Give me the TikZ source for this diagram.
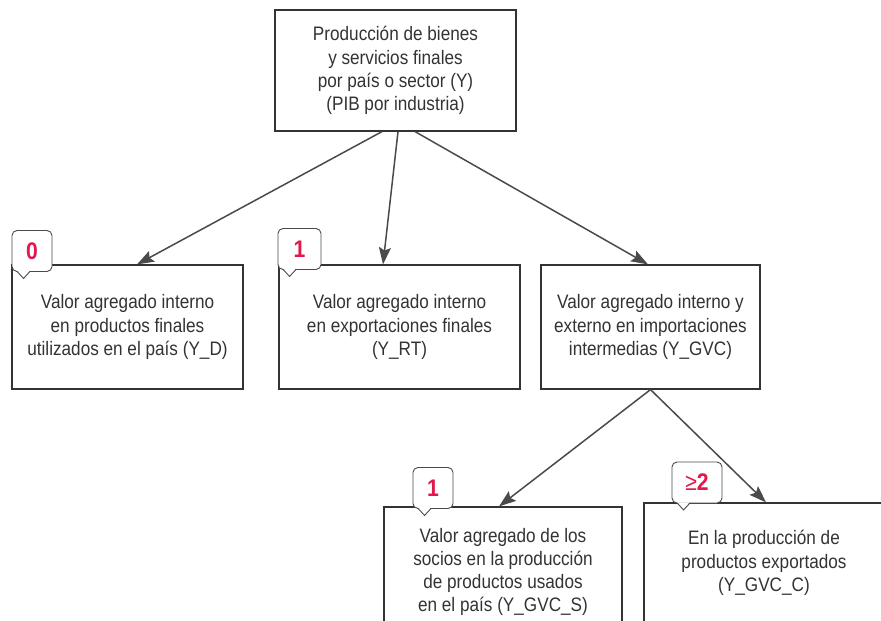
\documentclass[tikz,border=0pt]{standalone}
\usepackage{fontspec}
\setmainfont{Liberation Sans}[FakeStretch=0.88]
\usepackage{xcolor}
\usetikzlibrary{arrows.meta}

\definecolor{linegray}{HTML}{4A4A4A}
\definecolor{textgray}{HTML}{333333}
\definecolor{badgered}{HTML}{E2184C}

\tikzset{
  box/.style={draw=textgray, line width=1.2pt, fill=white, align=center,
    text=textgray, font=\fontsize{19.5}{23.3}\selectfont, inner sep=0pt},
  arr/.style={draw=linegray, line width=1.5pt,
    -{Stealth[length=17pt, width=12pt, inset=3pt]}},
  badge/.style={draw=linegray, line width=0.9pt, fill=white, rounded corners=5pt,
    minimum height=41pt, text=badgered, inner sep=0pt,
    font=\fontsize{24}{28}\selectfont\bfseries},
  tip/.style={draw=linegray, line width=0.9pt}
}

\begin{document}
\begin{tikzpicture}[x=1pt, y=-1pt]
    \useasboundingbox (0,0) rectangle (881,621);

    % boxes
    \node[box, minimum width=241pt, minimum height=121pt] (prod) at (395.5,70.5)
        {Producción de bienes\\y servicios finales\\por país o sector (Y)\\(PIB por industria)};
    \node[box, minimum width=231pt, minimum height=124pt] (yd) at (127.5,327)
        {Valor agregado interno\\en productos finales\\utilizados en el país (Y\_D)};
    \node[box, minimum width=241pt, minimum height=124pt] (yrt) at (399.5,327)
        {Valor agregado interno\\en exportaciones finales\\(Y\_RT)};
    \node[box, minimum width=219pt, minimum height=124pt] (gvc) at (650.5,327)
        {Valor agregado interno y\\externo en importaciones\\intermedias (Y\_GVC)};
    \node[box, minimum width=238pt, minimum height=130pt] (gvcs) at (503,572)
        {Valor agregado de los\\socios en la producción\\de productos usados\\en el país (Y\_GVC\_S)};
    \node[box, minimum width=240pt, minimum height=120pt] (gvcc) at (764,563)
        {En la producción de\\productos exportados\\(Y\_GVC\_C)};

    % arrows
    \draw[arr] ([xshift=-13.5pt]prod.south) -- ([xshift=9.5pt]yd.north);
    \draw[arr] ([xshift=2.5pt]prod.south) -- ([xshift=-16.5pt]yrt.north);
    \draw[arr] ([xshift=19.5pt]prod.south) -- ([xshift=-2.5pt]gvc.north);
    \draw[arr] (gvc.south) -- ([xshift=-4pt]gvcs.north);
    \draw[arr] (gvc.south) -- ([xshift=2pt]gvcc.north);

    % badges
    \node[badge, minimum width=40pt] (b0) at (32,251) {0};
    \node[badge, minimum width=43pt] (b1) at (299.5,249) {1};
    \node[badge, minimum width=40pt] (b2) at (433,488) {1};
    \node[badge, minimum width=50pt] (b3) at (697,482.5) {{\mdseries ≥}2};

    \foreach \b in {b0,b1,b2,b3} {
        \fill[white] ([xshift=6pt,yshift=1.2pt]\b.south west) -- ++(6pt,-7.6pt) -- ++(6pt,7.6pt) -- cycle;
        \draw[tip] ([xshift=6pt]\b.south west) -- ++(6pt,-6.5pt) -- ++(6pt,6.5pt);
    }
\end{tikzpicture}
\end{document}
